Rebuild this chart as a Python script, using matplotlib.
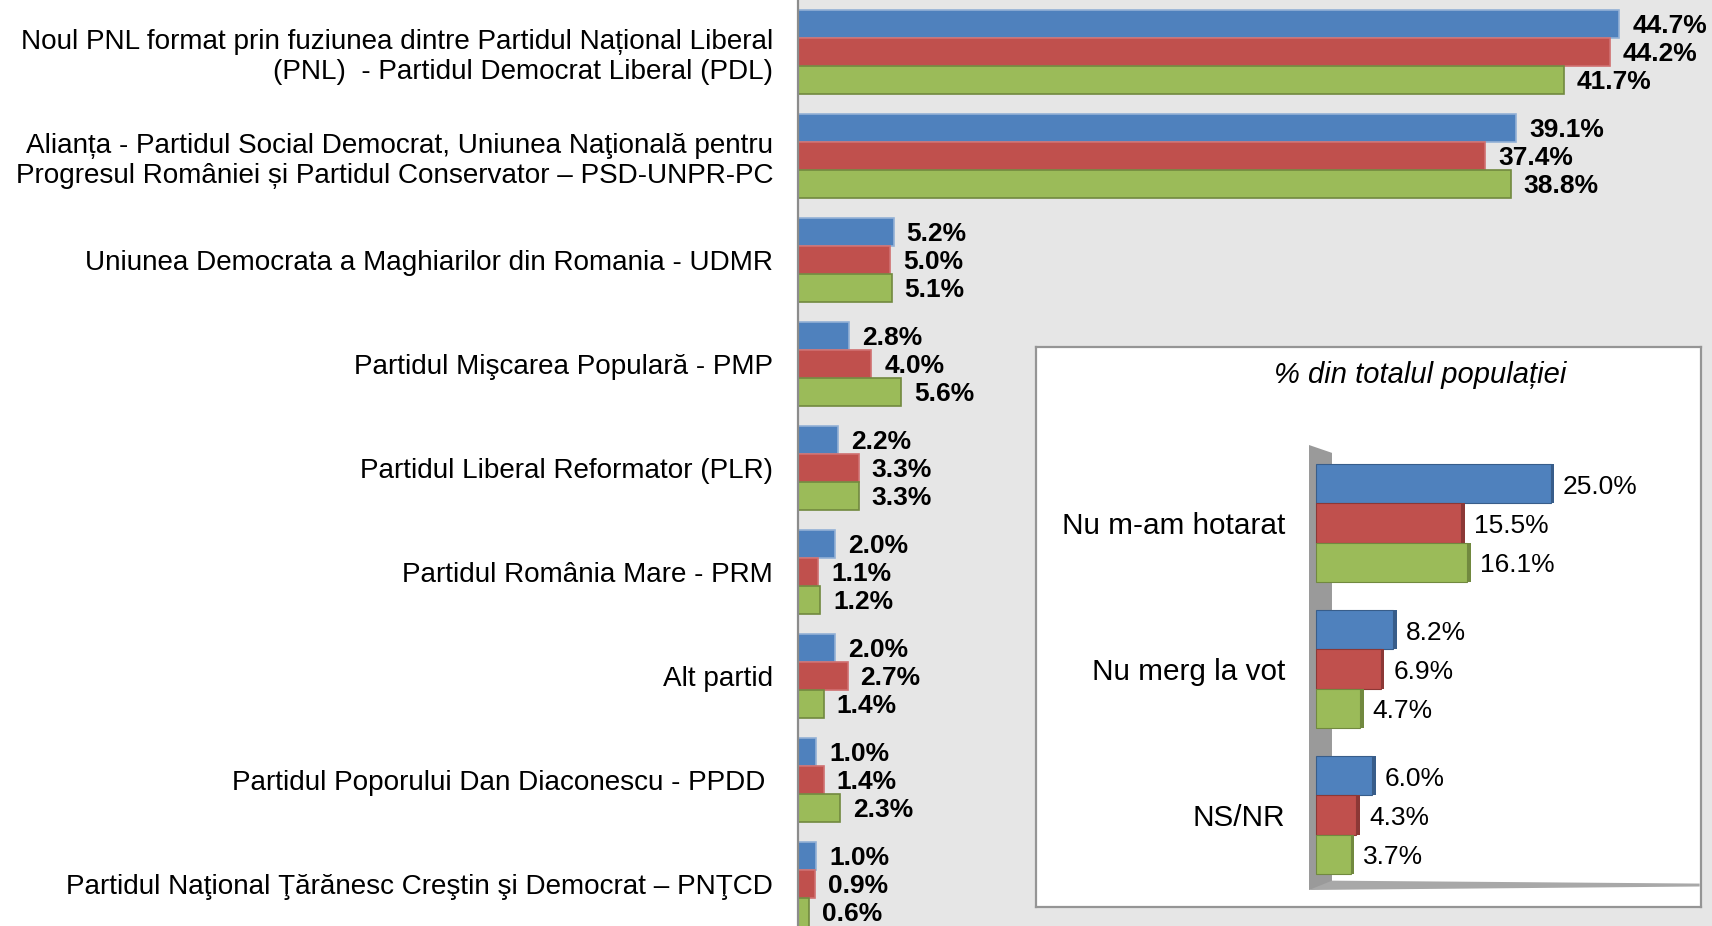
import matplotlib as mpl
import matplotlib.pyplot as plt
import numpy as np
from matplotlib.patches import Polygon

mpl.rcParams['font.family'] = ['Liberation Sans', 'DejaVu Sans']

parties = [
    "Noul PNL format prin fuziunea dintre Partidul Național Liberal\n(PNL)  - Partidul Democrat Liberal (PDL)",
    "Alianța - Partidul Social Democrat, Uniunea Naţională pentru\nProgresul României și Partidul Conservator – PSD-UNPR-PC",
    "Uniunea Democrata a Maghiarilor din Romania - UDMR",
    "Partidul Mişcarea Populară - PMP",
    "Partidul Liberal Reformator (PLR)",
    "Partidul România Mare - PRM",
    "Alt partid",
    "Partidul Poporului Dan Diaconescu - PPDD ",
    "Partidul Naţional Ţărănesc Creştin şi Democrat – PNŢCD",
]
blue_vals = [44.7, 39.1, 5.2, 2.8, 2.2, 2.0, 2.0, 1.0, 1.0]
red_vals = [44.2, 37.4, 5.0, 4.0, 3.3, 1.1, 2.7, 1.4, 0.9]
green_vals = [41.7, 38.8, 5.1, 5.6, 3.3, 1.2, 1.4, 2.3, 0.6]

inset_cats = ["Nu m-am hotarat", "Nu merg la vot", "NS/NR"]
inset_blue = [25.0, 8.2, 6.0]
inset_red = [15.5, 6.9, 4.3]
inset_green = [16.1, 4.7, 3.7]

c_blue, c_red, c_green = '#4F81BD', '#C0504D', '#9BBB59'
e_blue, e_red, e_green = '#93B1D6', '#D07070', '#71893F'
d_blue, d_red, d_green = '#385D8A', '#8C3836', '#71893F'

W, H = 1712, 926
fig = plt.figure(figsize=(W / 100, H / 100), dpi=100)
fig.patch.set_facecolor('white')

# main chart
ax = fig.add_axes([798 / W, 0, 1 - 798 / W, 1])
ax.set_facecolor('#E6E6E6')
y = np.arange(len(parties))
h = 0.27
series = [(blue_vals, c_blue, e_blue, -h), (red_vals, c_red, e_red, 0), (green_vals, c_green, e_green, h)]
for vals, col, ec, off in series:
    ax.barh(y + off, vals, height=h, color=col, edgecolor=ec, linewidth=1.2)
    for yi, v in zip(y, vals):
        ax.annotate(f"{v:.1f}%", (v, yi + off), xytext=(13, -2), textcoords='offset pixels',
                    ha='left', va='center', fontsize=19, fontweight='bold', color='black')
ax.set_xlim(0, (W - 798) / 18.37)
ax.set_ylim(8.40, -0.5)
ax.set_xticks([])
ax.set_yticks(y)
ax.set_yticklabels(parties, fontsize=20.1)
ax.tick_params(axis='y', length=0, pad=18)
for s in ['top', 'right', 'bottom']:
    ax.spines[s].set_visible(False)
ax.spines['left'].set_color('#8C8C8C')
ax.spines['left'].set_linewidth(1.6)

# inset box
box = fig.add_axes([1036 / W, 1 - 907 / H, 665 / W, 560 / H])
box.set_facecolor('white')
box.set_xticks([])
box.set_yticks([])
for s in box.spines.values():
    s.set_color('#959595')
    s.set_linewidth(1.6)
box.text(0.578, 0.95, "% din totalul populației", transform=box.transAxes, ha='center', va='center',
         fontsize=21, style='italic')

# inset chart
ia = fig.add_axes([1309 / W, 1 - 890 / H, (1700 - 1309) / W, (890 - 445) / H])
ia.patch.set_alpha(0)
yi = np.arange(len(inset_cats))
hi = 0.27
x0 = -0.75
ia.set_xlim(x0, (1700 - 1316) / 9.38)
ia.set_ylim(2.514, -0.534)
wall = Polygon([(x0, 2.514), (x0, -0.534), (1.7, -0.48), (1.7, 2.49)], closed=True,
               facecolor='#9A9A9A', edgecolor='none', zorder=0)
ia.add_patch(wall)
floor = Polygon([(x0, 2.514), (40.9, 2.49), (40.9, 2.47), (1.7, 2.45)], closed=True,
                facecolor='#A8A8A8', edgecolor='none', zorder=0)
ia.add_patch(floor)
iseries = [(inset_blue, c_blue, d_blue, -hi), (inset_red, c_red, d_red, 0), (inset_green, c_green, d_green, hi)]
for vals, col, dc, off in iseries:
    ia.barh(yi + off, vals, height=hi, color=col, edgecolor=dc, linewidth=0.8, zorder=2)
    ia.barh(yi + off, [0.38] * len(vals), left=vals, height=hi, color=dc, linewidth=0, zorder=2)
    for yy, v in zip(yi, vals):
        ia.annotate(f"{v:.1f}%", (v + 0.38, yy + off), xytext=(9, -3), textcoords='offset pixels',
                    ha='left', va='center', fontsize=19, color='black')
ia.set_xticks([])
ia.set_yticks(yi)
ia.set_yticklabels(inset_cats, fontsize=21.4)
ia.tick_params(axis='y', length=0, pad=17)
for s in ia.spines.values():
    s.set_visible(False)

plt.savefig('out.png', dpi=100)
